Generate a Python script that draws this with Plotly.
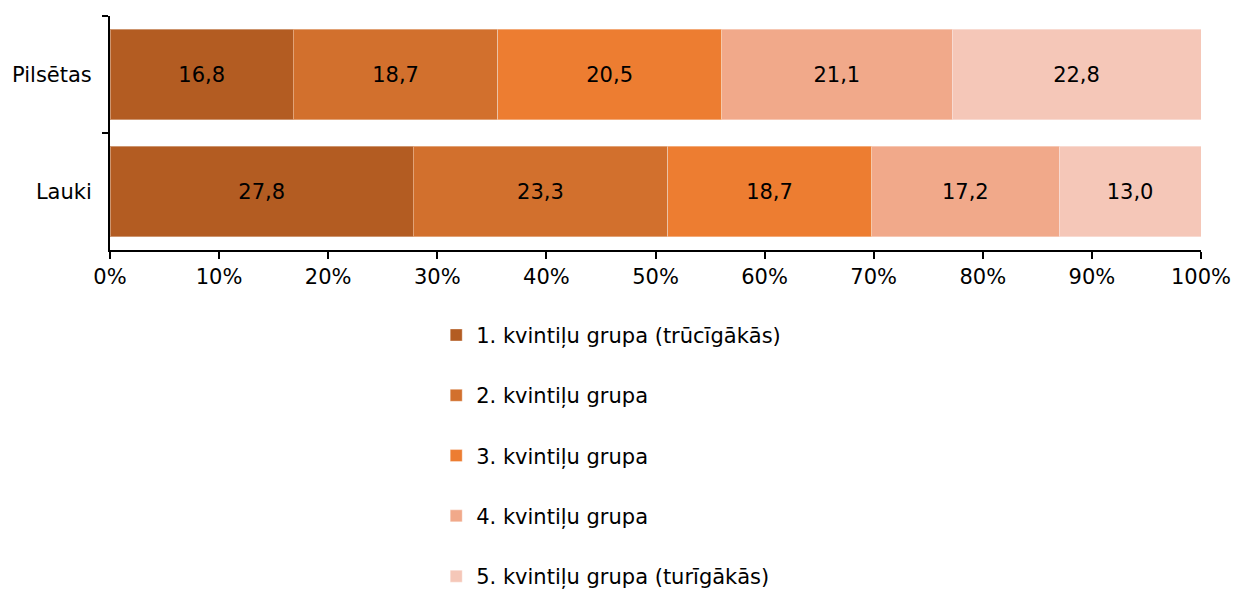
import plotly.graph_objects as go

categories = ["Pilsētas", "Lauki"]
series_names = [
    "1. kvintiļu grupa (trūcīgākās)",
    "2. kvintiļu grupa",
    "3. kvintiļu grupa",
    "4. kvintiļu grupa",
    "5. kvintiļu grupa (turīgākās)",
]
q1 = [16.8, 27.8]
q2 = [18.7, 23.3]
q3 = [20.5, 18.7]
q4 = [21.1, 17.2]
q5 = [22.8, 13.0]
series_values = [q1, q2, q3, q4, q5]
colors = ["#B35C22", "#D2702D", "#ED7D31", "#F1A98A", "#F5C7B8"]
tick_vals = [0, 10, 20, 30, 40, 50, 60, 70, 80, 90, 100]
tick_text = [f"{v}%" for v in tick_vals]

FONT = "Verdana, DejaVu Sans, sans-serif"
FS = 21

fig = go.Figure()
for i, (name, vals, col) in enumerate(zip(series_names, series_values, colors)):
    fig.add_trace(go.Bar(
        y=categories, x=vals, name=name, orientation="h",
        marker=dict(color=col, line=dict(color="rgba(255,255,255,0.35)", width=1)),
        text=[f"{v:.1f}".replace(".", ",") for v in vals],
        textposition="inside", insidetextanchor="middle",
        textfont=dict(color="black", size=FS, family=FONT),
        legendgroup=f"g{i}",
        hoverinfo="x+y+name",
    ))

fig.update_layout(
    barmode="stack", barnorm="percent",
    bargap=0.23,
    width=1235, height=590,
    margin=dict(l=110, r=34, t=16, b=340, autoexpand=False),
    paper_bgcolor="white", plot_bgcolor="white",
    font=dict(family=FONT, size=FS, color="black"),
    legend=dict(
        orientation="v", x=0.299, xanchor="left", y=-0.277, yanchor="top",
        tracegroupgap=30, font=dict(size=FS, family=FONT),
        itemwidth=30, traceorder="grouped",
    ),
    xaxis=dict(
        range=[0, 100], tickvals=tick_vals, ticktext=tick_text,
        showgrid=False, zeroline=False, showline=True, linecolor="black", linewidth=2,
        ticks="outside", ticklen=7, tickwidth=2, tickcolor="black",
        tickfont=dict(size=FS, family=FONT), automargin=False,
    ),
    yaxis=dict(
        categoryorder="array", categoryarray=categories, autorange="reversed",
        showgrid=False, zeroline=False, showline=True, linecolor="black", linewidth=2,
        ticks="outside", ticklen=6, tickwidth=2, tickcolor="black", tickson="boundaries",
        tickfont=dict(size=FS, family=FONT), ticklabelstandoff=12, automargin=False,
    ),
)

fig.write_html(
    "out.html",
    config={"displayModeBar": False},
    post_script="document.body.style.margin='0px';document.body.style.overflow='hidden';",
)
